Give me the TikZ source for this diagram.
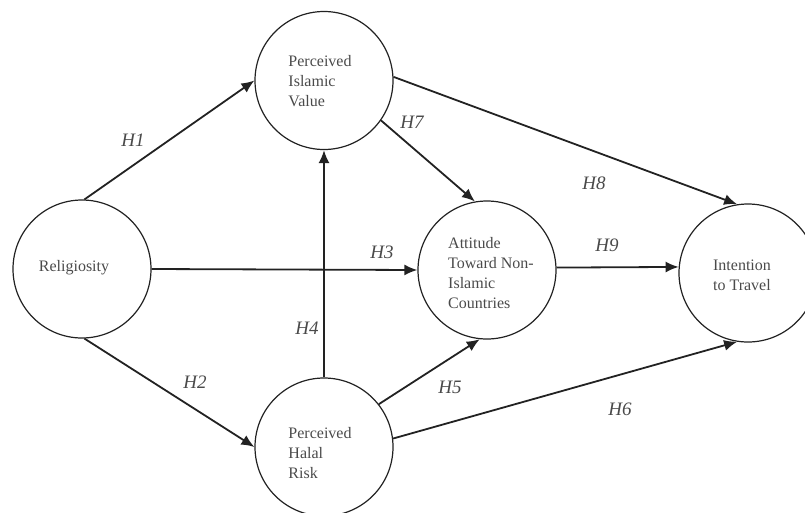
\documentclass[tikz,border=0pt]{standalone}
\usepackage{fontspec}
\setmainfont{Liberation Serif}
\usetikzlibrary{arrows.meta}
\definecolor{txt}{HTML}{4A4A4A}
\definecolor{ln}{HTML}{222222}
\tikzset{
  var/.style={circle, draw=ln, line width=1.2pt, minimum size=138pt, inner sep=0pt},
  vtext/.style={align=left, text=txt, font=\fontsize{16}{20}\selectfont, inner sep=0pt},
  hyp/.style={text=txt, font=\fontsize{19}{22}\selectfont\itshape, inner sep=0pt},
  arr/.style={draw=ln, line width=1.8pt, -{Latex[length=13pt,width=11pt]}}
}
\begin{document}
\begin{tikzpicture}[x=1pt,y=-1pt]
\useasboundingbox (0,0) rectangle (805,512);
\node[var] (rel) at (82,269) {};
\node[var] (piv) at (324,80.5) {};
\node[var] (att) at (487,270) {};
\node[var] (int) at (748,273) {};
\node[var] (phr) at (324,447) {};
\node[vtext] (relT) at (74,268) {Religiosity};
\node[vtext] (pivT) at (320,81) {Perceived\\Islamic\\Value};
\node[vtext] (attT) at (491,273) {Attitude\\Toward Non-\\Islamic\\Countries};
\node[vtext] (intT) at (742,275) {Intention\\to Travel};
\node[vtext] (phrT) at (320,452.7) {Perceived\\Halal\\Risk};
\draw[arr] (rel.88) -- (piv.180);
\draw[arr] (rel.272) -- (phr.180);
\draw[arr] (rel.0) -- (att.180);
\draw[arr] (phr.90) -- (piv.270);
\draw[arr] (phr.38) -- (att.264);
\draw[arr] (phr.7) -- (int.261);
\draw[arr] (piv.325) -- (att.100);
\draw[arr] (piv.3) -- (int.99);
\draw[arr] (att.2) -- (int.175);
\node[hyp] (h1) at (133,140) {H1};
\node[hyp] (h2) at (195,382) {H2};
\node[hyp] (h3) at (382,252) {H3};
\node[hyp] (h4) at (307,328) {H4};
\node[hyp] (h5) at (450,387) {H5};
\node[hyp] (h6) at (620,409) {H6};
\node[hyp] (h7) at (412,122) {H7};
\node[hyp] (h8) at (594,183) {H8};
\node[hyp] (h9) at (607,245) {H9};
\end{tikzpicture}
\end{document}
